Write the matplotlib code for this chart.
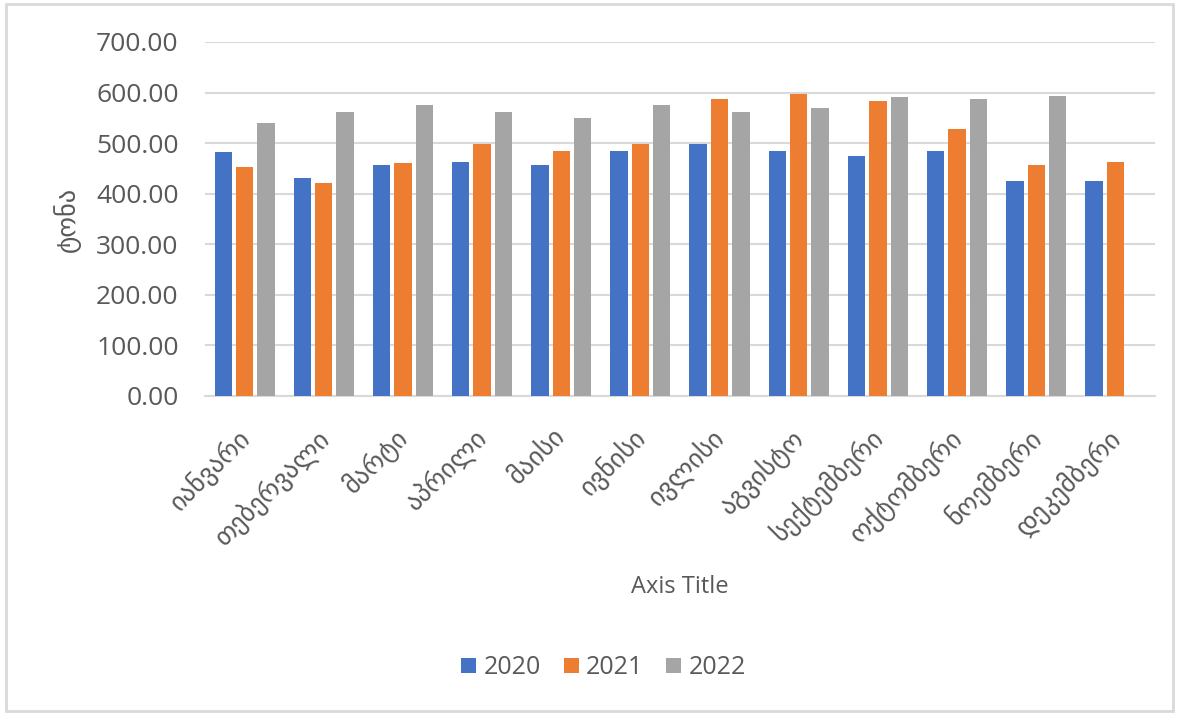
import numpy as np
import matplotlib
matplotlib.use("Agg")
import matplotlib.pyplot as plt
from matplotlib.patches import Rectangle

months = ["იანვარი", "თებერვალი", "მარტი", "აპრილი", "მაისი", "ივნისი",
          "ივლისი", "აგვისტო", "სექტემბერი", "ოქტომბერი", "ნოემბერი", "დეკემბერი"]
years = ["2020", "2021", "2022"]
v2020 = [482, 432, 456, 463, 456, 484, 498, 484, 475, 484, 425, 425]
v2021 = [453, 422, 460, 498, 484, 498, 587, 597, 584, 528, 456, 463]
v2022 = [540, 562, 575, 562, 550, 575, 562, 569, 591, 587, 594, np.nan]
yticks = [0, 100, 200, 300, 400, 500, 600, 700]

colors = ["#4472C4", "#ED7D31", "#A5A5A5"]
txt = "#595959"
plt.rcParams['font.family'] = ['Open Sans', 'DejaVu Sans']

fig = plt.figure(figsize=(11.79, 7.15), dpi=100)
fig.patches.append(Rectangle((0.005, 0.006), 0.99, 0.988, transform=fig.transFigure,
                             fill=False, edgecolor="#D9D9D9", lw=2))
ax = fig.add_axes([0.1739, 0.4462, 0.8057, 0.4951])

x = np.arange(len(months))
step = 0.27
w = 0.22
for i, (vals, yr) in enumerate(zip([v2020, v2021, v2022], years)):
    ax.bar(x + (i - 1) * step, vals, width=w, color=colors[i], label=yr, zorder=3)

ax.set_xlim(-0.5, len(months) - 0.5)
ax.set_ylim(0, 700)
ax.set_yticks(yticks)
ax.set_yticklabels(["%.2f" % t for t in yticks], fontsize=19, color=txt)
ax.yaxis.grid(True, color="#D9D9D9", lw=1.5, zorder=0)
for s in ["top", "right", "left"]:
    ax.spines[s].set_visible(False)
ax.spines["bottom"].set_color("#D9D9D9")
ax.spines["bottom"].set_linewidth(1.5)
ax.tick_params(length=0, pad=19)
ax.tick_params(axis="x", pad=20)

ax.set_xticks(x - 0.11)
ax.set_xticklabels(months, rotation=45, ha="right", va="top", rotation_mode="anchor",
                   fontsize=19, color=txt, family=["DejaVu Sans"])

ax.set_ylabel("ტონა", fontsize=19, color=txt, family=["DejaVu Sans"])
ax.yaxis.set_label_coords(-0.131, 0.5)

fig.text(0.577, 0.179, "Axis Title", ha="center", va="center", fontsize=17, color=txt)

leg = fig.legend(loc="center", bbox_to_anchor=(0.512, 0.066), ncol=3, frameon=False,
                 handlelength=0.6, handleheight=0.6, handletextpad=0.3,
                 columnspacing=0.9, prop={"size": 18})
for t in leg.get_texts():
    t.set_color(txt)

fig.savefig("out.png", dpi=100)
